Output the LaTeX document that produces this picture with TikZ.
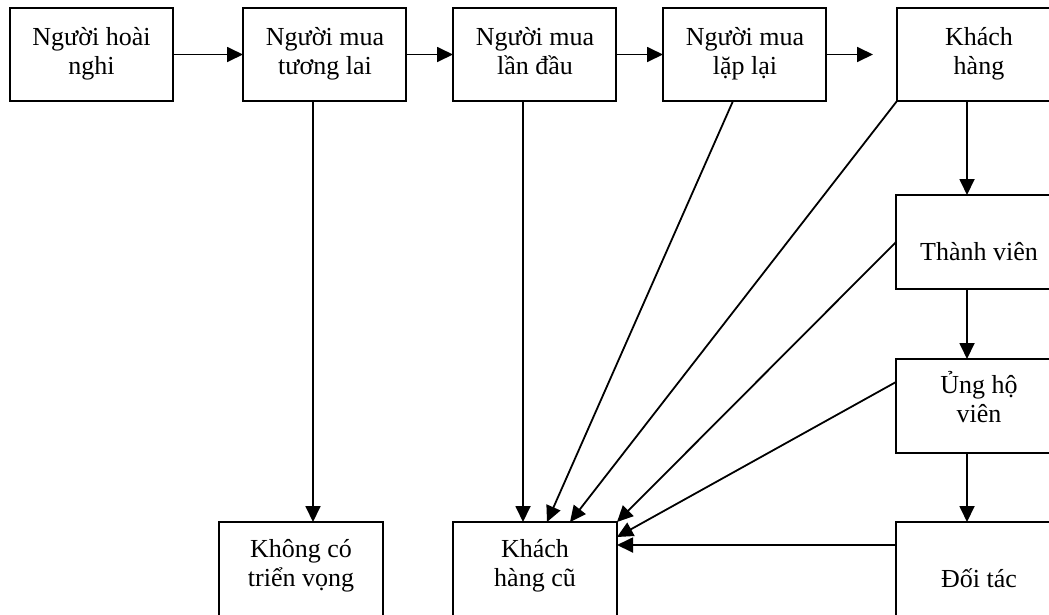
\documentclass[tikz,border=0pt]{standalone}
\usepackage{fontspec}
\setmainfont{Liberation Serif}
\usetikzlibrary{arrows.meta,calc}
\newcommand\lblstrut{\rule{0pt}{26pt}}
\begin{document}
\begin{tikzpicture}[x=1pt,y=-1pt,
  box/.style={draw, line width=1.8pt, minimum width=163pt, minimum height=93pt, inner sep=0pt, outer sep=0pt, anchor=north west},
  lbl/.style={align=center, anchor=north, inner sep=0pt, font=\fontsize{26}{29}\selectfont},
  arr/.style={line width=1.8pt, -{Triangle[length=16pt,width=15pt]}}]
\useasboundingbox (0,0) rectangle (1049,614);
\clip (0,0) rectangle (1049,614);
% boxes
\node[box] (b1) at (10,8) {};
\node[box] (b2) at (243,8) {};
\node[box] (b3) at (453,8) {};
\node[box] (b4) at (663,8) {};
\node[box, minimum width=165pt] (b5) at (897,8) {};
\node[box, minimum width=165pt, minimum height=94pt] (tv) at (896,195) {};
\node[box, minimum width=165pt, minimum height=94pt] (uh) at (896,359) {};
\node[box, minimum width=165pt, minimum height=100pt] (dt) at (896,522) {};
\node[box, minimum width=164pt, minimum height=100pt] (kc) at (219,522) {};
\node[box, minimum width=164pt, minimum height=100pt] (kh) at (453,522) {};
% texts
\node[lbl] (t1) at (91.5,19) {\lblstrut Người hoài\\nghi};
\node[lbl] (t2) at (325,19) {\lblstrut Người mua\\tương lai};
\node[lbl] (t3) at (535,19) {\lblstrut Người mua\\lần đầu};
\node[lbl] (t4) at (745,19) {\lblstrut Người mua\\lặp lại};
\node[lbl] (t5) at (979,19) {\lblstrut Khách\\hàng};
\node[lbl] (t6) at (979,234) {\lblstrut Thành viên};
\node[lbl] (t7) at (979,367) {\lblstrut Ủng hộ\\viên};
\node[lbl] (t8) at (979,561) {\lblstrut Đối tác};
\node[lbl] (t9) at (301,531) {\lblstrut Không có\\triển vọng};
\node[lbl] (t10) at (535,531) {\lblstrut Khách\\hàng cũ};
% guide coordinates for vertical connectors
\coordinate (v2) at (313,0);
\coordinate (v3) at (523,0);
\coordinate (v5) at (967,0);
% top row
\draw[arr] (b1.east) -- (b2.west);
\draw[arr] (b2.east) -- (b3.west);
\draw[arr] (b3.east) -- (b4.west);
\draw[arr, shorten >=24pt] (b4.east) -- (b5.west);
% verticals
\draw[arr] (b2.south -| v2) -- (kc.north -| v2);
\draw[arr] (b3.south -| v3) -- (kh.north -| v3);
\draw[arr] (b5.south -| v5) -- (tv.north -| v5);
\draw[arr] (tv.south -| v5) -- (uh.north -| v5);
\draw[arr] (uh.south -| v5) -- (dt.north -| v5);
% diagonals to Khach hang cu
\draw[arr] ([xshift=70pt]b4.south west) -- ([xshift=94pt]kh.north west);
\draw[arr] (b5.south west) -- ([xshift=117pt]kh.north west);
\draw[arr] ([yshift=-47pt]tv.north west) -- (kh.north east);
\draw[arr] ([yshift=-23pt]uh.north west) -- ([yshift=-15pt]kh.north east);
\coordinate (dk) at ([yshift=-23pt]dt.north west);
\draw[arr] (dk) -- (dk -| kh.east);
\end{tikzpicture}
\end{document}
